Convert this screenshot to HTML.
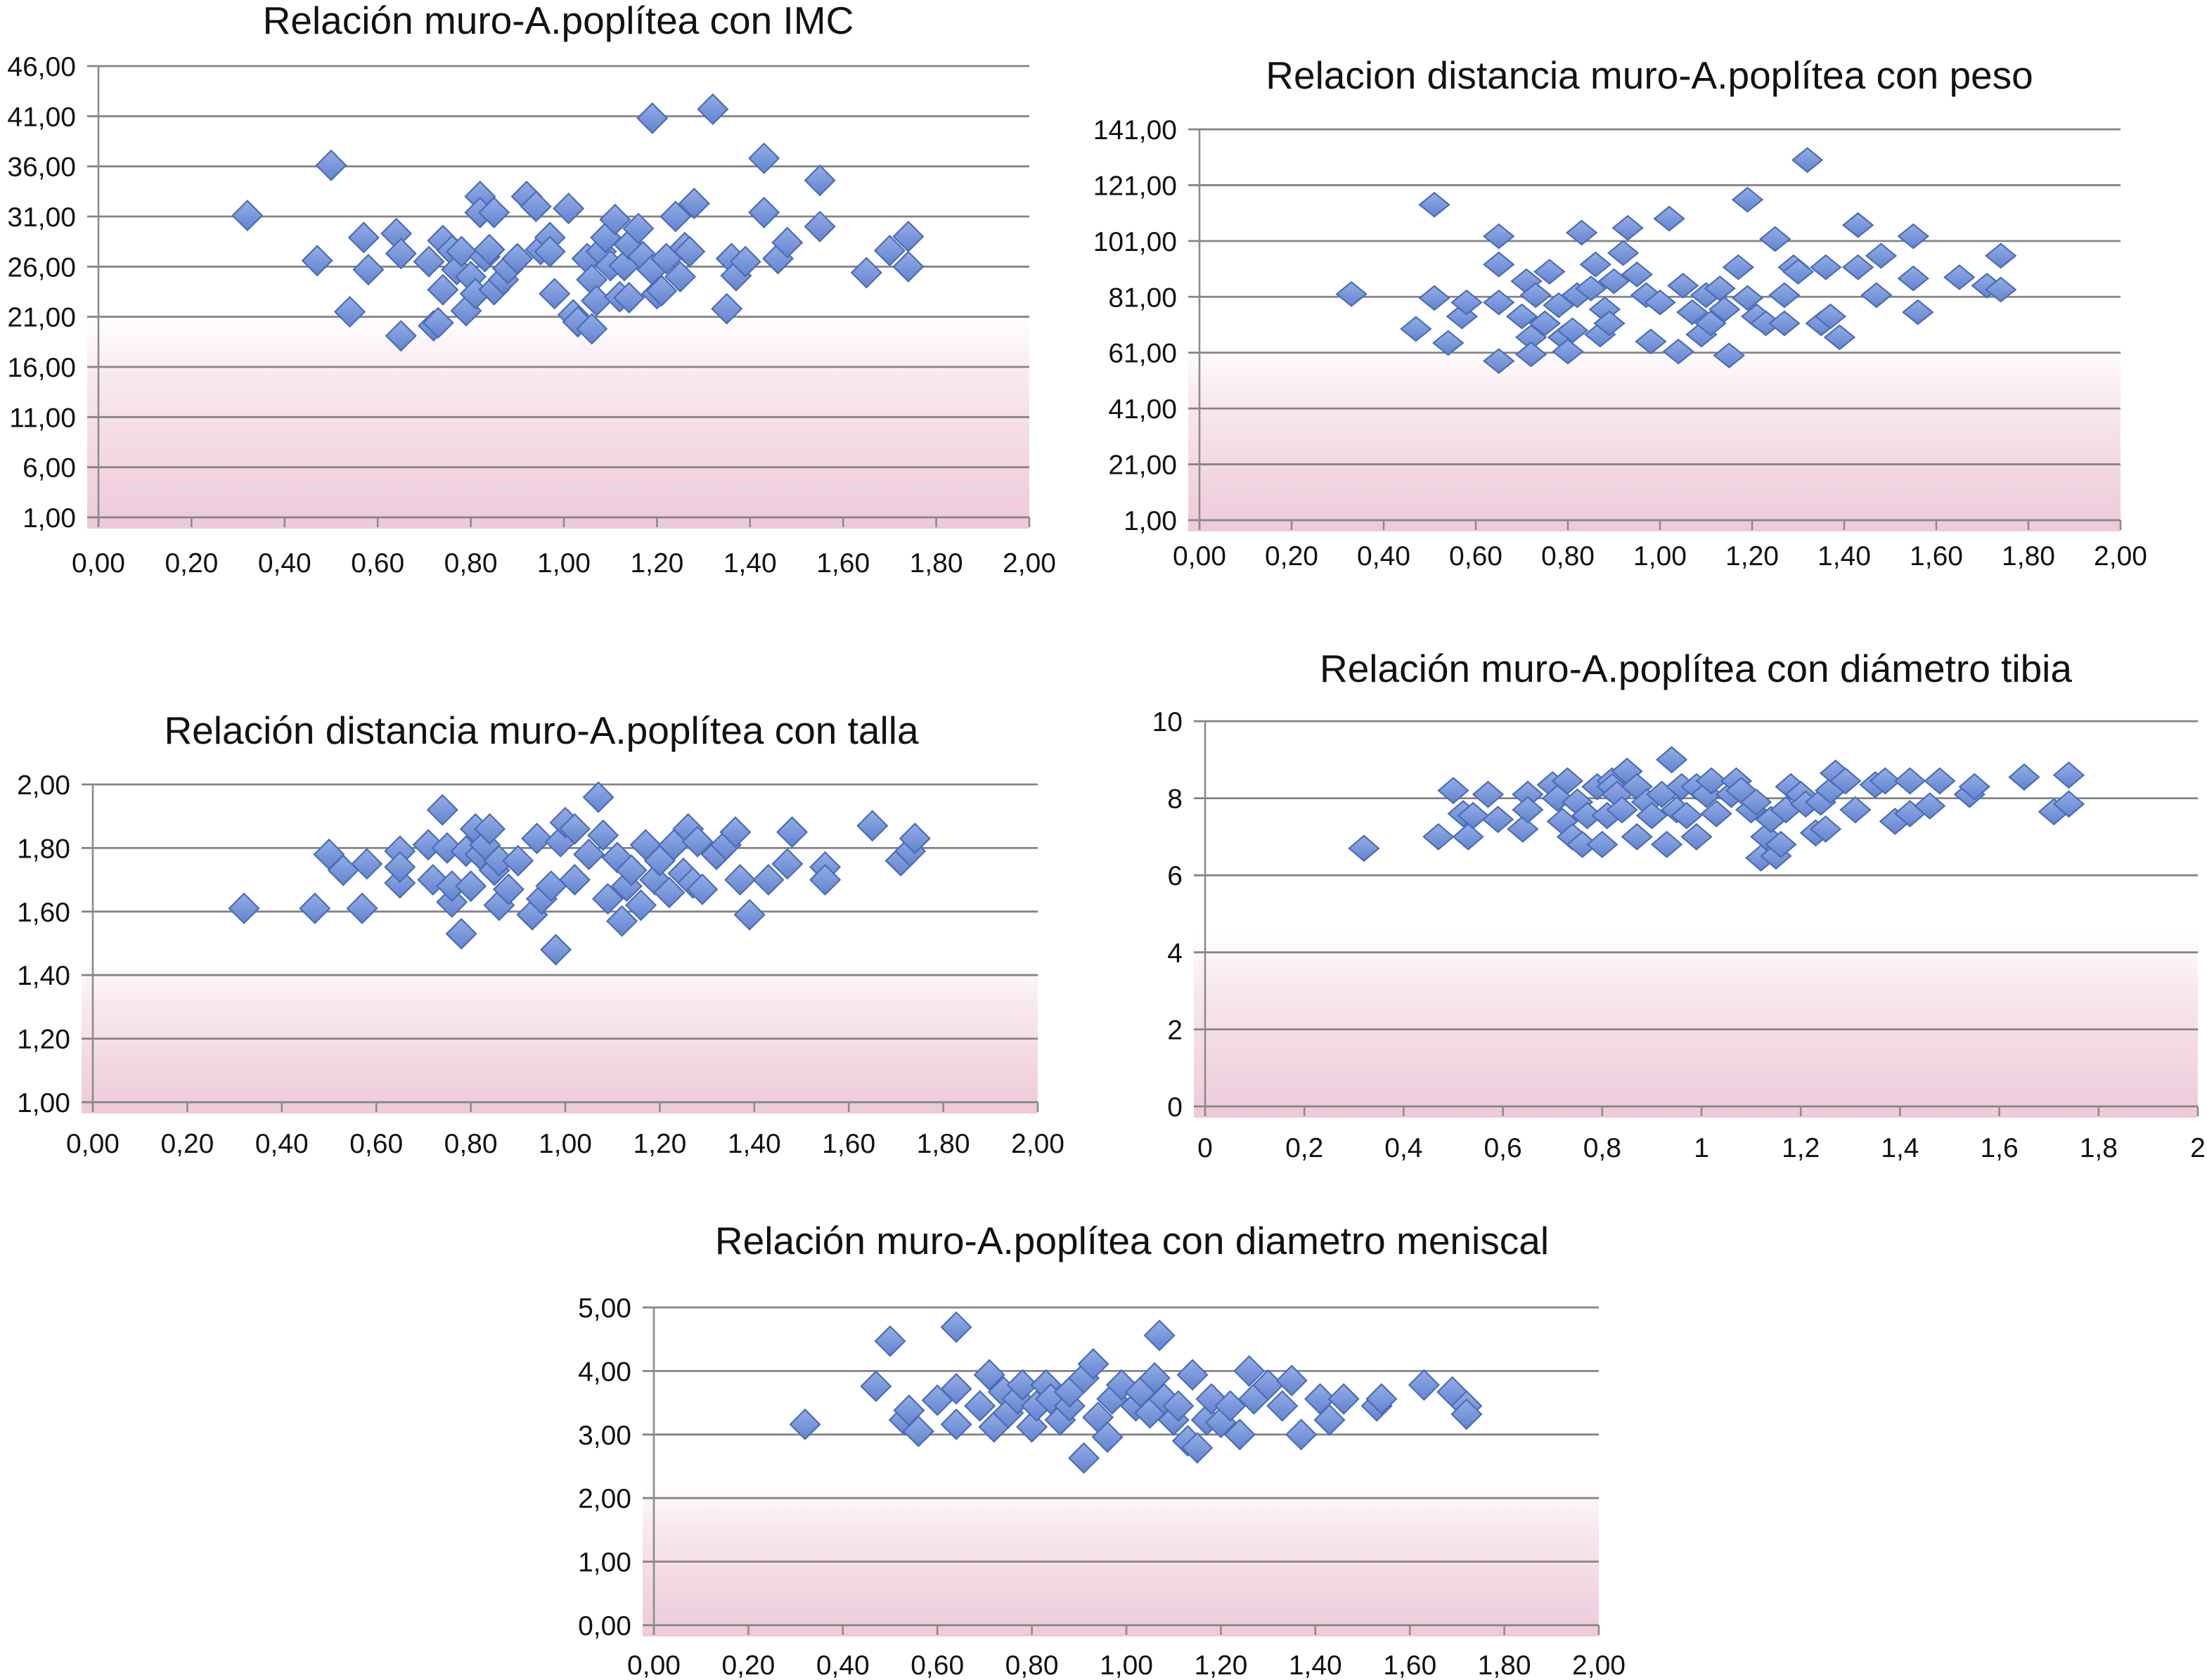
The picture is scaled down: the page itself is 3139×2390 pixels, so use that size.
<!DOCTYPE html>
<html><head><meta charset="utf-8"><title>Relación muro-A.poplítea</title>
<style>html,body{margin:0;padding:0;background:#fff}svg{display:block}</style></head>
<body>
<svg id="fig" xmlns="http://www.w3.org/2000/svg" width="3139" height="2390" viewBox="0 0 1569.5 1195" font-family="Liberation Sans, Arial, sans-serif">
<defs>
<linearGradient id="pink" x1="0" y1="0" x2="0" y2="1">
<stop offset="0" stop-color="#ffffff"/><stop offset="0.3" stop-color="#f8e8ef"/><stop offset="1" stop-color="#eec9d9"/>
</linearGradient>
<linearGradient id="dia" x1="0" y1="0" x2="0" y2="1">
<stop offset="0" stop-color="#93aee6"/><stop offset="1" stop-color="#6383cf"/>
</linearGradient>
</defs>
</svg>
<script>
// ---- Chart 1: IMC ----
const imcX=[0.32,0.47,0.50,0.54,0.57,0.58,0.64,0.65,0.65,0.71,0.72,0.73,0.74,0.74,0.76,0.77,0.78,0.79,0.80,0.81,0.82,0.82,0.83,0.84,0.85,0.85,0.87,0.88,0.90,0.92,0.94,0.95,0.97,0.97,0.98,1.01,1.02,1.03,1.05,1.06,1.06,1.07,1.08,1.09,1.10,1.11,1.12,1.13,1.14,1.14,1.16,1.17,1.19,1.19,1.20,1.21,1.22,1.24,1.25,1.26,1.27,1.28,1.32,1.35,1.36,1.37,1.39,1.43,1.43,1.46,1.48,1.55,1.55,1.65,1.70,1.74,1.74];
const imcY=[31.1,26.6,36.1,21.5,28.9,25.7,29.3,27.3,19.1,26.5,20.1,20.4,23.7,28.6,27.6,25.7,27.5,21.6,25,23.3,33,31.4,27,27.7,23.7,31.4,24.7,25.8,26.8,33,32,27.7,28.9,27.5,23.3,31.8,21.2,20.5,26.8,19.8,24.7,22.6,27.5,28.9,26.1,30.7,23,26.1,28.2,22.9,29.8,27,40.8,25.7,23.3,23.6,26.8,31,25,27.9,27.5,32.3,41.7,21.8,26.8,25.1,26.5,36.8,31.4,26.8,28.4,34.6,30,25.4,27.6,29,26];
const imcTicksY=[46,41,36,31,26,21,16,11,6,1];
// ---- Chart 2: peso ----
const pesoX=[0.33,0.47,0.51,0.51,0.54,0.57,0.58,0.65,0.65,0.65,0.65,0.70,0.71,0.72,0.72,0.73,0.75,0.76,0.78,0.79,0.80,0.81,0.82,0.83,0.85,0.86,0.87,0.88,0.89,0.90,0.92,0.93,0.95,0.97,0.98,1.00,1.02,1.04,1.05,1.07,1.09,1.10,1.11,1.13,1.14,1.15,1.17,1.19,1.19,1.21,1.23,1.25,1.27,1.27,1.29,1.30,1.32,1.35,1.36,1.37,1.39,1.43,1.43,1.47,1.48,1.55,1.55,1.56,1.65,1.71,1.74,1.74];
const pesoY=[82,69.5,114,80.6,64.5,74,79,58,102.7,92.6,79,74,86.6,66.5,60.4,81.6,71.5,90,78,66.5,61.4,69,81.6,104,84,92.6,67.5,76.5,71.5,86.6,96.7,105.7,89,81.6,65,79,109,61.4,85,75.5,67.5,81.6,71.5,84,76.5,60,91.6,80.6,115.8,74,71.5,101.7,71.5,81.6,91.6,90,130,71.5,91.6,74,66.5,106.7,91.6,81.6,95.7,102.7,87.6,75.5,88,85,95.7,83.6];
const pesoTicksY=[141,121,101,81,61,41,21,1];
// ---- Chart 3: talla ----
const tallaX=[0.32,0.47,0.50,0.53,0.57,0.58,0.65,0.65,0.65,0.71,0.72,0.74,0.75,0.76,0.76,0.78,0.79,0.80,0.81,0.82,0.83,0.84,0.85,0.86,0.86,0.88,0.90,0.93,0.94,0.95,0.97,0.98,0.99,1.00,1.02,1.02,1.05,1.07,1.08,1.09,1.11,1.12,1.13,1.14,1.16,1.17,1.19,1.20,1.22,1.23,1.25,1.26,1.27,1.28,1.29,1.32,1.34,1.36,1.37,1.39,1.43,1.47,1.48,1.55,1.55,1.65,1.71,1.73,1.74];
const tallaY=[1.61,1.61,1.78,1.73,1.61,1.75,1.79,1.69,1.74,1.81,1.70,1.92,1.80,1.63,1.68,1.53,1.79,1.68,1.86,1.78,1.81,1.86,1.73,1.76,1.62,1.67,1.76,1.59,1.83,1.64,1.68,1.48,1.82,1.88,1.70,1.86,1.78,1.96,1.84,1.64,1.77,1.57,1.68,1.73,1.62,1.81,1.70,1.76,1.66,1.81,1.72,1.86,1.69,1.82,1.67,1.78,1.81,1.85,1.70,1.59,1.70,1.75,1.85,1.74,1.70,1.87,1.76,1.79,1.83];
const tallaTicksY=[2.00,1.80,1.60,1.40,1.20,1.00];
// ---- Chart 4: diámetro tibia ----
const tibiaX=[0.32,0.47,0.50,0.52,0.53,0.54,0.57,0.59,0.64,0.65,0.65,0.70,0.71,0.72,0.73,0.74,0.75,0.76,0.77,0.79,0.80,0.81,0.82,0.82,0.83,0.84,0.85,0.87,0.87,0.89,0.90,0.92,0.93,0.94,0.95,0.96,0.97,0.99,0.99,1.01,1.02,1.03,1.06,1.07,1.08,1.10,1.11,1.12,1.13,1.14,1.15,1.16,1.17,1.18,1.20,1.21,1.23,1.24,1.25,1.26,1.27,1.29,1.31,1.35,1.37,1.39,1.42,1.42,1.46,1.48,1.54,1.55,1.65,1.71,1.74,1.74];
const tibiaY=[6.7,7.0,8.2,7.6,7.0,7.55,8.1,7.45,7.2,8.1,7.7,8.35,8.0,7.4,8.45,7.0,7.9,6.8,7.55,8.3,6.8,7.55,8.45,8.3,8.1,7.7,8.7,8.3,7.0,7.9,7.55,8.1,6.8,9.0,7.7,8.3,7.55,7.0,8.3,8.1,8.45,7.6,8.1,8.45,8.2,7.7,7.9,6.45,7.0,7.45,6.5,6.8,7.7,8.3,8.1,7.85,7.1,7.9,7.2,8.2,8.65,8.45,7.7,8.35,8.45,7.4,7.6,8.45,7.8,8.45,8.1,8.3,8.55,7.65,7.85,8.6];
const tibiaTicksY=[10,8,6,4,2,0];
// ---- Chart 5: diámetro meniscal ----
const menX=[0.32,0.47,0.50,0.53,0.54,0.56,0.60,0.64,0.64,0.64,0.69,0.71,0.72,0.74,0.75,0.77,0.78,0.80,0.81,0.83,0.84,0.86,0.88,0.88,0.91,0.91,0.93,0.94,0.96,0.97,0.99,1.02,1.03,1.05,1.06,1.07,1.08,1.10,1.11,1.13,1.14,1.15,1.17,1.18,1.20,1.22,1.24,1.26,1.27,1.30,1.33,1.35,1.37,1.41,1.43,1.46,1.53,1.54,1.63,1.69,1.72,1.72];
const menY=[3.16,3.76,4.47,3.23,3.38,3.05,3.54,4.69,3.72,3.16,3.45,3.94,3.12,3.67,3.34,3.56,3.78,3.12,3.45,3.78,3.56,3.23,3.45,3.67,2.63,3.89,4.11,3.27,2.96,3.56,3.78,3.45,3.67,3.34,3.89,4.56,3.56,3.23,3.45,2.9,3.94,2.79,3.23,3.56,3.19,3.45,3.0,4.0,3.56,3.78,3.45,3.85,3.0,3.56,3.23,3.56,3.45,3.56,3.78,3.67,3.45,3.32];
const menTicksY=[5.00,4.00,3.00,2.00,1.00,0.00];

const ticksX2=[0,0.2,0.4,0.6,0.8,1.0,1.2,1.4,1.6,1.8,2.0];

const NS='http://www.w3.org/2000/svg';
const svg=document.getElementById('fig');
function mk(tag,attrs,parent){const e=document.createElementNS(NS,tag);for(const k in attrs)e.setAttribute(k,attrs[k]);(parent||svg).appendChild(e);return e;}
function fmt(v,dec){return dec===0?String(Math.round(v*10)/10).replace('.',','):v.toFixed(dec).replace('.',',');}

function drawChart(cfg,xs,ys,yTicks){
  const g=mk('g',{});
  
  
  const xmin=0,xmax=2,ymin=yTicks[yTicks.length-1],ymax=yTicks[0];
  const sx=v=>cfg.x0+(v-xmin)/(xmax-xmin)*(cfg.x1-cfg.x0);
  const sy=v=>cfg.yB-(v-ymin)/(ymax-ymin)*(cfg.yB-cfg.yT);
  const h=cfg.yB-cfg.yT;
  const bg=mk('rect',{x:cfg.x0-8,y:cfg.yT+h*0.55,width:cfg.x1-cfg.x0+8,height:h*0.45+8,fill:'url(#pink)'},g);
  
  
  const t=mk('text',{x:cfg.tx,y:cfg.ty,'font-size':27.5,'text-anchor':'middle',fill:'#111'},g);
  t.textContent=cfg.title;
  
  
  yTicks.forEach(v=>{
    const y=sy(v);
    const l=mk('line',{x1:cfg.x0-8,x2:cfg.x1,y1:y,y2:y,stroke:'#848484','stroke-width':1.4},g);
    
    
    const tt=mk('text',{x:cfg.x0-16,y:y+7,'font-size':19.5,'text-anchor':'end',fill:'#111'},g);
    tt.textContent=fmt(v,cfg.dec);
    
    
  });
  const ax=mk('line',{x1:cfg.x0,x2:cfg.x0,y1:cfg.yT,y2:cfg.yB+7,stroke:'#8c8c8c','stroke-width':1.3},g);
  
  
  ticksX2.forEach(v=>{
    const x=sx(v);
    const tk=mk('line',{x1:x,x2:x,y1:cfg.yB,y2:cfg.yB+7,stroke:'#8c8c8c','stroke-width':1.3},g);
    
    
    const tl=mk('text',{x:x,y:cfg.xly,'font-size':19.5,'text-anchor':'middle',fill:'#111'},g);
    tl.textContent=fmt(v,cfg.dec);
    
    
  });
  const hw=10.5,hh=cfg.hh;
  xs.forEach((xv,i)=>{
    const cx=sx(xv),cy=sy(ys[i]);
    const p=mk('polygon',{points:`${cx},${cy-hh} ${cx+hw},${cy} ${cx},${cy+hh} ${cx-hw},${cy}`,fill:'url(#dia)',stroke:'#4c6cb6','stroke-width':1.1},g);
    
    
  });
}

drawChart({name:'chart-imc',title:'Relación muro-A.poplítea con IMC',tx:397,ty:24,x0:70,x1:732,yT:47,yB:368,xly:407,dec:2,hh:10.5},imcX,imcY,imcTicksY);
drawChart({name:'chart-peso',title:'Relacion distancia muro-A.poplítea con peso',tx:1173,ty:63,x0:853,x1:1508,yT:92,yB:370,xly:402,dec:2,hh:8.5},pesoX,pesoY,pesoTicksY);
drawChart({name:'chart-talla',title:'Relación distancia muro-A.poplítea con talla',tx:385,ty:529,x0:66,x1:738,yT:558,yB:784,xly:820,dec:2,hh:10.5},tallaX,tallaY,tallaTicksY);
drawChart({name:'chart-tibia',title:'Relación muro-A.poplítea con diámetro tibia',tx:1206,ty:485,x0:857,x1:1563,yT:513,yB:787,xly:823,dec:0,hh:9},tibiaX,tibiaY,tibiaTicksY);
drawChart({name:'chart-meniscal',title:'Relación muro-A.poplítea con diametro meniscal',tx:805,ty:892,x0:465,x1:1137,yT:930,yB:1156,xly:1191,dec:2,hh:10.5},menX,menY,menTicksY);
</script>
</body></html>
